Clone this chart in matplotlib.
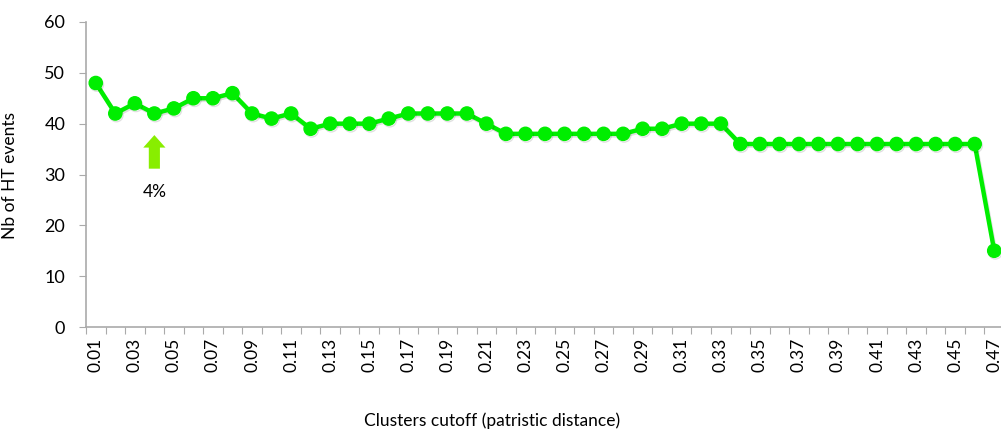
import matplotlib
matplotlib.use('Agg')
import matplotlib.pyplot as plt
import matplotlib.patheffects as pe

plt.rcParams['font.family'] = ['Lato', 'DejaVu Sans']

# Cluster cutoffs (patristic distance) and number of HT events
cutoffs = [f'{i / 100:.2f}' for i in range(1, 48)]
ht_events = [48, 42, 44, 42, 43, 45, 45, 46, 42, 41, 42, 39, 40, 40, 40, 41,
             42, 42, 42, 42, 40, 38, 38, 38, 38, 38, 38, 38, 39, 39, 40, 40,
             40, 36, 36, 36, 36, 36, 36, 36, 36, 36, 36, 36, 36, 36, 15]
y_ticks = [0, 10, 20, 30, 40, 50, 60]
marked_index = 3  # 0.04
marked_label = '4%'

fig = plt.figure(figsize=(10.01, 4.30), dpi=100)
ax = fig.add_axes([86 / 1001, 1 - 327 / 430, 918 / 1001, 305 / 430])

xs = list(range(len(cutoffs)))
ax.plot(xs, ht_events, color='#00ee00', lw=3.2, marker='o', ms=9.5,
        markeredgecolor='#00ee00', clip_on=False, zorder=3,
        path_effects=[pe.SimpleLineShadow(offset=(0.8, -1.2), alpha=0.12), pe.Normal()])

ax.set_xlim(-0.5, len(cutoffs) - 0.5)
ax.set_ylim(0, 60)
ax.set_yticks(y_ticks)
ax.tick_params(axis='y', labelsize=13, length=5, color='#aaaaaa', direction='out', pad=10)

# category axis: ticks at boundaries, labels at every other category
ax.set_xticks([x - 0.5 for x in range(len(cutoffs) + 1)])
ax.set_xticklabels([])
ax.set_xticks(xs[::2], minor=True)
ax.set_xticklabels(cutoffs[::2], minor=True, rotation=90, fontsize=12.5)
ax.tick_params(axis='x', which='major', length=5, color='#aaaaaa', direction='out')
ax.tick_params(axis='x', which='minor', length=0, pad=8)

for side in ['top', 'right']:
    ax.spines[side].set_visible(False)
for side in ['left', 'bottom']:
    ax.spines[side].set_color('#aaaaaa')
    ax.spines[side].set_linewidth(1.2)

# arrow marking the chosen cutoff
ax.annotate('', xy=(marked_index, 38.3), xytext=(marked_index, 30.6),
            arrowprops=dict(arrowstyle='simple,head_width=1.6,head_length=0.9,tail_width=0.8',
                            color='#88ee00', lw=0))
ax.text(marked_index, 26.5, marked_label, ha='center', va='center', fontsize=12.5)

fig.text(10 / 1001, 1 - 175 / 430, 'Nb of HT events', rotation=90, ha='center', va='center', fontsize=12.5)
fig.text(492 / 1001, 1 - 421 / 430, 'Clusters cutoff (patristic distance)', ha='center', va='center', fontsize=12.5)

fig.savefig('out.png', dpi=100)
plt.close(fig)
